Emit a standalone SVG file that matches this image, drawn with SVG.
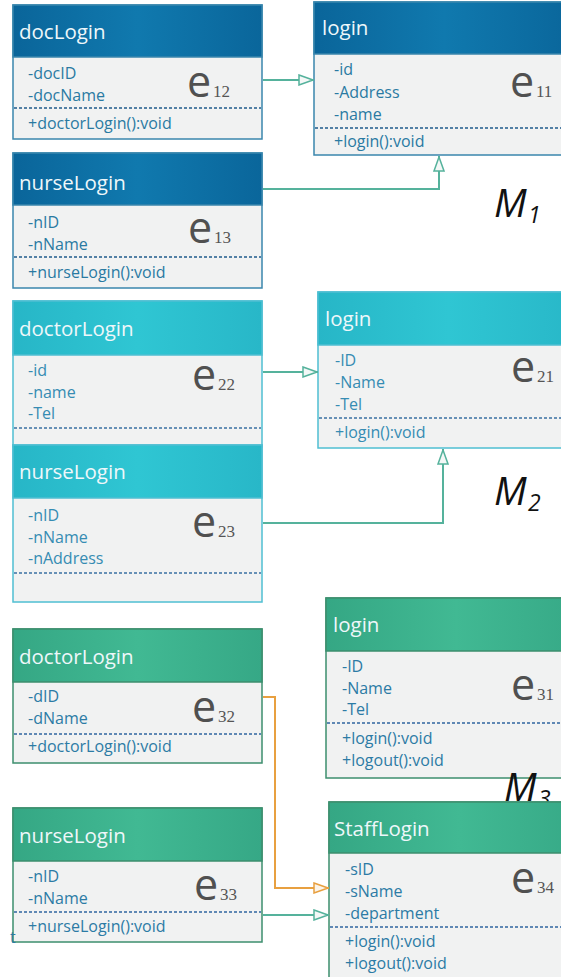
<svg xmlns="http://www.w3.org/2000/svg" width="561" height="977" viewBox="0 0 561 977">
  <defs>
    <linearGradient id="hdrBlue" x1="0" y1="0" x2="1" y2="0">
      <stop offset="0" stop-color="#0a659a"/>
      <stop offset="0.5" stop-color="#1079ae"/>
      <stop offset="1" stop-color="#0a669b"/>
    </linearGradient>
    <linearGradient id="hdrCyan" x1="0" y1="0" x2="1" y2="0">
      <stop offset="0" stop-color="#27b6c7"/>
      <stop offset="0.5" stop-color="#2fc6d3"/>
      <stop offset="1" stop-color="#28b7c8"/>
    </linearGradient>
    <linearGradient id="hdrGreen" x1="0" y1="0" x2="1" y2="0">
      <stop offset="0" stop-color="#35a784"/>
      <stop offset="0.5" stop-color="#41b993"/>
      <stop offset="1" stop-color="#36a886"/>
    </linearGradient>
    <marker id="triGreen" viewBox="0 0 16 12" refX="16" refY="6" markerWidth="16" markerHeight="12" markerUnits="userSpaceOnUse" orient="auto">
      <path d="M1,1 L15,6 L1,11 Z" fill="#f4f8f7" stroke="#55b29c" stroke-width="1.5"/>
    </marker>
    <marker id="triOrange" viewBox="0 0 16 12" refX="16" refY="6" markerWidth="16" markerHeight="12" markerUnits="userSpaceOnUse" orient="auto">
      <path d="M1,1 L15,6 L1,11 Z" fill="#fbf4ea" stroke="#e8a040" stroke-width="1.5"/>
    </marker>
  </defs>
  <style>
    .body { fill: #f1f2f2; }
    .bBlue { stroke: #3a86ad; stroke-width: 1.5; }
    .bCyan { stroke: #4fbfd2; stroke-width: 1.5; }
    .bGreen { stroke: #3d8e6e; stroke-width: 1.5; }
    .hdr { font-family: "Open Sans", "Noto Sans", sans-serif; font-size: 20.5px; fill: #eef7fa; }
    .txt { font-family: "Open Sans", "Noto Sans", sans-serif; font-size: 16px; }
    .tBlue { fill: #2a7aa2; }
    .tCyan { fill: #368cb3; }
    .tGreen { fill: #2c7ba5; }
    .dash { stroke-width: 1.6; stroke-dasharray: 3 2; fill: none; }
    .dBlue { stroke: #1f5b8c; }
    .dCyan { stroke: #3a70a2; }
    .dGreen { stroke: #2f66a0; }
    .e { font-family: "Open Sans", "Noto Sans", sans-serif; font-size: 43px; fill: #505050; }
    .sub { font-family: "Liberation Serif", serif; font-size: 17px; fill: #555555; }
    .m { font-family: "Open Sans", "Noto Sans", sans-serif; font-style: italic; font-size: 39px; fill: #111111; }
    .msub { font-family: "Open Sans", "Noto Sans", sans-serif; font-style: italic; font-size: 23px; fill: #111111; }
    .conn { fill: none; stroke-width: 2; }
    .cGreen { stroke: #55b29c; }
    .cOrange { stroke: #e8a040; }
  </style>

  <!-- ===== M1 ===== -->
  <g id="m1-docLogin">
    <rect x="13" y="5" width="249" height="134" class="body bBlue"/>
    <rect x="13" y="5" width="249" height="52" fill="url(#hdrBlue)" class="bBlue"/>
    <text x="19" y="39" class="hdr">docLogin</text>
    <text x="28" y="79" class="txt tBlue">-docID</text>
    <text x="28" y="101" class="txt tBlue">-docName</text>
    <line x1="14" y1="108" x2="261" y2="108" class="dash dBlue"/>
    <text x="28" y="129" class="txt tBlue">+doctorLogin():void</text>
    <text x="187" y="97" class="e">e</text><text x="213" y="97" class="sub">12</text>
  </g>

  <g id="m1-login">
    <rect x="314" y="2" width="260" height="153" class="body bBlue"/>
    <rect x="314" y="2" width="260" height="52" fill="url(#hdrBlue)" class="bBlue"/>
    <text x="322" y="35" class="hdr">login</text>
    <text x="334" y="75" class="txt tBlue">-id</text>
    <text x="334" y="98" class="txt tBlue">-Address</text>
    <text x="334" y="120" class="txt tBlue">-name</text>
    <line x1="315" y1="128" x2="561" y2="128" class="dash dBlue"/>
    <text x="334" y="147" class="txt tBlue">+login():void</text>
    <text x="510" y="97" class="e">e</text><text x="536" y="97" class="sub">11</text>
  </g>

  <g id="m1-nurseLogin">
    <rect x="13" y="153" width="249" height="135" class="body bBlue"/>
    <rect x="13" y="153" width="249" height="52" fill="url(#hdrBlue)" class="bBlue"/>
    <text x="19" y="190" class="hdr">nurseLogin</text>
    <text x="28" y="228" class="txt tBlue">-nID</text>
    <text x="28" y="250" class="txt tBlue">-nName</text>
    <line x1="14" y1="257" x2="261" y2="257" class="dash dBlue"/>
    <text x="28" y="278" class="txt tBlue">+nurseLogin():void</text>
    <text x="188" y="243" class="e">e</text><text x="214" y="243" class="sub">13</text>
  </g>

  <text x="494" y="217" class="m">M</text><text x="528" y="223" class="msub">1</text>

  <!-- ===== M2 ===== -->
  <g id="m2-doctorLogin">
    <rect x="13" y="301" width="249" height="146" class="body bCyan"/>
    <rect x="13" y="301" width="249" height="54" fill="url(#hdrCyan)" class="bCyan"/>
    <text x="19" y="336" class="hdr">doctorLogin</text>
    <text x="28" y="376" class="txt tCyan">-id</text>
    <text x="28" y="398" class="txt tCyan">-name</text>
    <text x="28" y="419" class="txt tCyan">-Tel</text>
    <line x1="14" y1="428" x2="261" y2="428" class="dash dCyan"/>
    <text x="192" y="390" class="e">e</text><text x="218" y="390" class="sub">22</text>
  </g>

  <g id="m2-login">
    <rect x="318" y="292" width="260" height="156" class="body bCyan"/>
    <rect x="318" y="292" width="260" height="53" fill="url(#hdrCyan)" class="bCyan"/>
    <text x="325" y="326" class="hdr">login</text>
    <text x="335" y="366" class="txt tCyan">-ID</text>
    <text x="335" y="388" class="txt tCyan">-Name</text>
    <text x="335" y="410" class="txt tCyan">-Tel</text>
    <line x1="319" y1="418" x2="561" y2="418" class="dash dCyan"/>
    <text x="335" y="438" class="txt tCyan">+login():void</text>
    <text x="511" y="382" class="e">e</text><text x="537" y="382" class="sub">21</text>
  </g>

  <g id="m2-nurseLogin">
    <rect x="13" y="445" width="249" height="157" class="body bCyan"/>
    <rect x="13" y="445" width="249" height="53" fill="url(#hdrCyan)" class="bCyan"/>
    <text x="19" y="479" class="hdr">nurseLogin</text>
    <text x="28" y="521" class="txt tCyan">-nID</text>
    <text x="28" y="543" class="txt tCyan">-nName</text>
    <text x="28" y="564" class="txt tCyan">-nAddress</text>
    <line x1="14" y1="573" x2="261" y2="573" class="dash dCyan"/>
    <text x="192" y="537" class="e">e</text><text x="218" y="537" class="sub">23</text>
  </g>

  <text x="494" y="505" class="m">M</text><text x="528" y="511" class="msub">2</text>

  <!-- ===== M3 ===== -->
  <g id="m3-doctorLogin">
    <rect x="13" y="629" width="249" height="134" class="body bGreen"/>
    <rect x="13" y="629" width="249" height="53" fill="url(#hdrGreen)" class="bGreen"/>
    <text x="19" y="664" class="hdr">doctorLogin</text>
    <text x="28" y="702" class="txt tGreen">-dID</text>
    <text x="28" y="724" class="txt tGreen">-dName</text>
    <line x1="14" y1="734" x2="261" y2="734" class="dash dGreen"/>
    <text x="28" y="752" class="txt tGreen">+doctorLogin():void</text>
    <text x="192" y="722" class="e">e</text><text x="218" y="722" class="sub">32</text>
  </g>

  <g id="m3-login">
    <rect x="326" y="598" width="260" height="180" class="body bGreen"/>
    <rect x="326" y="598" width="260" height="53" fill="url(#hdrGreen)" class="bGreen"/>
    <text x="333" y="632" class="hdr">login</text>
    <text x="342" y="672" class="txt tGreen">-ID</text>
    <text x="342" y="694" class="txt tGreen">-Name</text>
    <text x="342" y="715" class="txt tGreen">-Tel</text>
    <line x1="327" y1="723" x2="561" y2="723" class="dash dGreen"/>
    <text x="342" y="744" class="txt tGreen">+login():void</text>
    <text x="342" y="766" class="txt tGreen">+logout():void</text>
    <text x="511" y="700" class="e">e</text><text x="537" y="700" class="sub">31</text>
  </g>

  <text x="504" y="801" class="m">M</text><text x="538" y="807" class="msub">3</text>

  <g id="m3-nurseLogin">
    <rect x="13" y="808" width="249" height="134" class="body bGreen"/>
    <rect x="13" y="808" width="249" height="53" fill="url(#hdrGreen)" class="bGreen"/>
    <text x="19" y="843" class="hdr">nurseLogin</text>
    <text x="28" y="882" class="txt tGreen">-nID</text>
    <text x="28" y="904" class="txt tGreen">-nName</text>
    <line x1="14" y1="912" x2="261" y2="912" class="dash dGreen"/>
    <text x="28" y="932" class="txt tGreen">+nurseLogin():void</text>
    <text x="194" y="900" class="e">e</text><text x="220" y="900" class="sub">33</text>
    <text x="10" y="943" class="txt tGreen" font-size="14">t</text>
  </g>

  <g id="m3-StaffLogin">
    <rect x="329" y="802" width="260" height="190" class="body bGreen"/>
    <rect x="329" y="802" width="260" height="51" fill="url(#hdrGreen)" class="bGreen"/>
    <text x="334" y="836" class="hdr">StaffLogin</text>
    <text x="345" y="875" class="txt tGreen">-sID</text>
    <text x="345" y="897" class="txt tGreen">-sName</text>
    <text x="345" y="919" class="txt tGreen">-department</text>
    <line x1="330" y1="927" x2="561" y2="927" class="dash dGreen"/>
    <text x="345" y="947" class="txt tGreen">+login():void</text>
    <text x="345" y="969" class="txt tGreen">+logout():void</text>
    <text x="511" y="893" class="e">e</text><text x="537" y="893" class="sub">34</text>
  </g>

  <!-- ===== connectors (generalization) ===== -->
  <g id="connectors">
    <polyline points="263,80 314,80" class="conn cGreen" marker-end="url(#triGreen)"/>
    <polyline points="263,189 439,189 439,156" class="conn cGreen" marker-end="url(#triGreen)"/>
    <polyline points="263,372 318,372" class="conn cGreen" marker-end="url(#triGreen)"/>
    <polyline points="263,523 443,523 443,449" class="conn cGreen" marker-end="url(#triGreen)"/>
    <polyline points="263,697 275,697 275,888 329,888" class="conn cOrange" marker-end="url(#triOrange)"/>
    <polyline points="263,915 329,915" class="conn cGreen" marker-end="url(#triGreen)"/>
  </g>
</svg>
